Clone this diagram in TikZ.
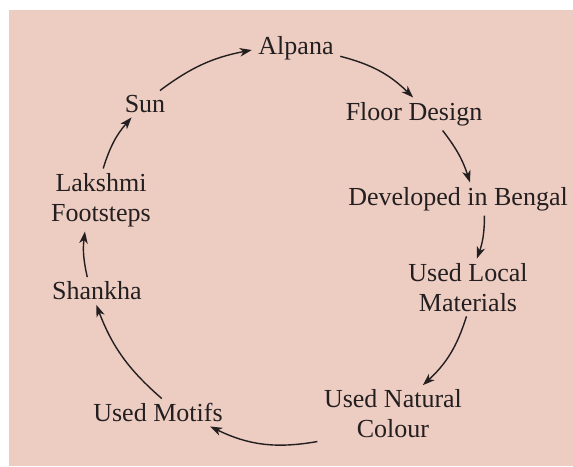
\documentclass[tikz,border=0pt]{standalone}
\usepackage{fontspec}
\setmainfont{Liberation Serif}
\usetikzlibrary{arrows.meta}
\definecolor{bgpink}{RGB}{237,204,193}
\definecolor{ink}{RGB}{35,31,32}
\tikzset{
  >={Stealth[length=12pt,width=8.5pt,inset=3.5pt]},
}

\begin{document}
\begin{tikzpicture}[
  x=1pt,y=1pt,
  ->,shorten >=0pt,line width=1.4pt,draw=ink,
  term/.style={font=\fontsize{26}{30}\selectfont, text=ink, align=center, inner xsep=6pt, inner ysep=4pt}
]
\useasboundingbox (0,0) rectangle (573,466);
\fill[bgpink] (9,0) rectangle (573,456);

\node[term] (alpana)  at (296,417.5) {Alpana};
\node[term] (floor)   at (414,352)   {Floor Design};
\node[term] (bengal)  at (458,267)   {Developed in Bengal};
\node[term] (local)   at (468,178.5) {Used Local\\Materials};
\node[term] (natural) at (393,52)    {Used Natural\\Colour};
\node[term] (motifs)  at (158,53.5)  {Used Motifs};
\node[term] (shankha) at (97,175)    {Shankha};
\node[term] (lakshmi) at (101,266)   {Lakshmi\\Footsteps};
\node[term] (sun)     at (145,362)   {Sun};

\draw (alpana.-10)  to[bend left=15] (floor.93);
\draw (floor.-30)   to[bend left=10] (bengal.54);
\draw (bengal.-32)  to[bend left=10] (local.73);
\draw (local.-93)   to[bend left=15] (natural.44);
\draw (natural.200) to[bend left=18] (motifs.-15);
\draw (motifs.75)   to[bend left=14] (shankha.267);
\draw (shankha.125) to[bend left=10] (lakshmi.243);
\draw (lakshmi.86)  to[bend left=12] (sun.225);
\draw (sun.42)      to[bend left=13] (alpana.182);

\end{tikzpicture}
\end{document}
